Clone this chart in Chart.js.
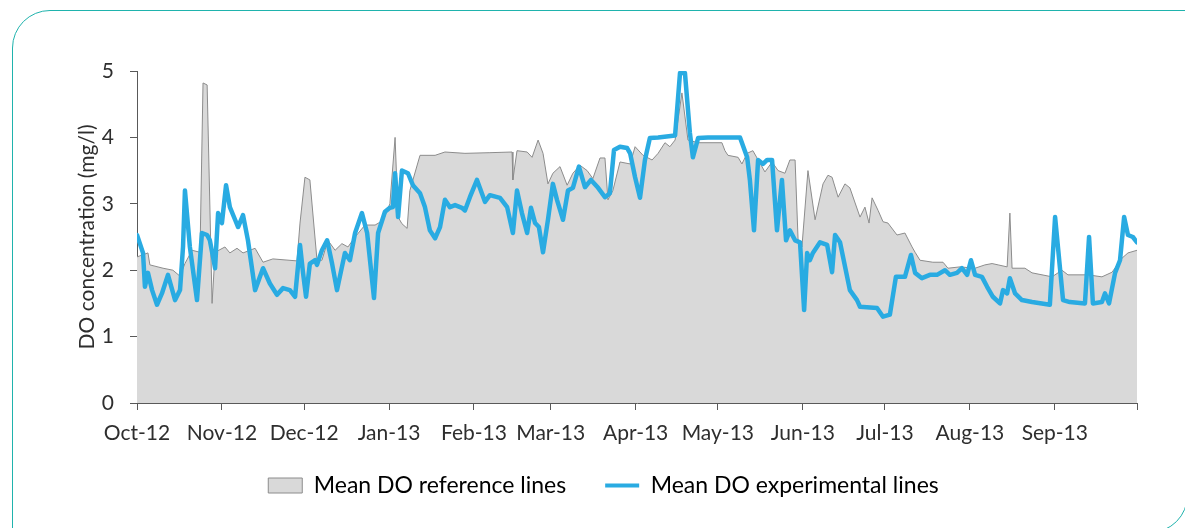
<!DOCTYPE html>
<html>
<head>
<meta charset="utf-8">
<title>Mean DO concentration</title>
<script src="https://cdn.jsdelivr.net/npm/chart.js@4.4.1/dist/chart.umd.min.js"></script>
<style>
  html, body { margin: 0; padding: 0; background: #fff; overflow: hidden; }
  #frame {
    position: absolute; left: 12px; top: 10px; width: 1176px; height: 523px;
    box-sizing: border-box; border: 1.5px solid #1fb3ad; border-radius: 38px 0 38px 0;
  }
  #wrap { position: absolute; left: 0; top: 0; width: 1185px; height: 528px; }
</style>
</head>
<body>
<div id="frame"></div>
<div id="wrap"><canvas id="doChart" width="1185" height="528"></canvas></div>
<script>
// days since 1 Oct 2012 for each month start, plus the closing tick
const monthTicks = [0, 31, 61, 92, 123, 151, 182, 212, 243, 273, 304, 335, 365];
const monthLabels = ["Oct-12", "Nov-12", "Dec-12", "Jan-13", "Feb-13", "Mar-13", "Apr-13",
  "May-13", "Jun-13", "Jul-13", "Aug-13", "Sep-13", ""];

// mean DO, reference lines (mg/l)
const refDays = [0, 4.0, 4.7, 9.5, 13.1, 15.7, 17.5, 20.1, 23.0, 24.1, 25.6, 27.4, 28.5, 32.1, 33.9,
  36.5, 38.7, 43.1, 46.0, 49.6, 58.4, 59.5, 61.3, 63.1, 65.7, 67.5, 69.7, 72.3, 74.8, 77.0, 79.6,
  83.2, 86.9, 89.8, 92.3, 94.2, 95.3, 96.7, 98.6, 99.6, 103.3, 108.8, 112.4, 119.7, 128.8, 136.9,
  137.2, 138.7, 142.4, 144.2, 146.4, 148.2, 150.0, 151.8, 154.4, 157.0, 159.1, 161.7, 164.3, 166.4,
  169.0, 170.8, 171.9, 173.7, 176.3, 180.0, 181.8, 184.7, 188.0, 190.2, 192.7, 194.5, 196.4, 198.9,
  201.1, 204.8, 213.5, 214.6, 215.7, 219.4, 220.8, 222.7, 224.8, 229.2, 231.8, 234.0, 236.5, 238.3,
  240.2, 241.3, 242.7, 244.9, 247.5, 250.4, 252.2, 253.7, 255.9, 258.4, 260.2, 263.9, 265.7, 267.2,
  268.3, 270.5, 272.3, 274.1, 277.4, 280.3, 282.9, 284.0, 285.8, 290.5, 294.2, 296.0, 300.4, 305.9,
  309.5, 312.1, 314.3, 317.6, 318.6, 319.4, 324.1, 326.7, 334.0, 337.6, 339.8, 347.1, 352.2, 355.9,
  359.5, 361.7, 365];
const refValues = [2.2, 2.26, 2.08, 2.03, 2.0, 1.91, 2.1, 2.3, 2.27, 4.82, 4.79, 1.5, 2.27, 2.35, 2.26,
  2.33, 2.26, 2.33, 2.12, 2.17, 2.14, 2.71, 3.4, 3.36, 2.15, 2.15, 2.45, 2.3, 2.4, 2.35, 2.5,
  2.68, 2.68, 2.75, 3.0, 4.0, 2.8, 2.7, 2.63, 3.2, 3.73, 3.73, 3.78, 3.76, 3.77, 3.78,
  3.36, 3.8, 3.78, 3.7, 3.96, 3.76, 3.3, 3.46, 3.56, 3.28, 3.46, 3.58, 3.5, 3.38,
  3.69, 3.69, 3.06, 3.2, 3.63, 3.6, 3.86, 3.73, 3.66, 3.76, 3.92, 3.86, 3.96, 4.67,
  3.96, 3.92, 3.92, 3.8, 3.73, 3.7, 3.6, 3.76, 3.8, 3.48, 3.63, 3.5, 3.46, 3.66,
  3.66, 2.45, 2.35, 3.5, 2.76, 3.3, 3.43, 3.4, 3.1, 3.3, 3.24, 2.8, 2.95, 2.71,
  3.09, 2.9, 2.73, 2.71, 2.53, 2.56, 2.35, 2.27, 2.15, 2.12, 2.12, 2.03, 2.05, 2.03,
  2.08, 2.1, 2.08, 2.05, 2.86, 2.03, 2.03, 1.96, 1.9, 2.0, 1.93, 1.93, 1.9, 1.97,
  2.18, 2.26, 2.3];

// mean DO, experimental lines (mg/l)
const expDays = [0, 2.2, 2.9, 4.0, 5.5, 7.3, 9.1, 11.3, 13.9, 15.7, 16.8, 17.5, 19.3, 21.9, 23.7,
  25.6, 26.6, 28.5, 29.6, 31.0, 32.5, 33.9, 35.8, 36.9, 38.7, 40.5, 43.1, 46.0, 48.5, 51.1, 53.3,
  55.8, 57.7, 59.5, 60.6, 61.7, 63.1, 65.0, 65.7, 67.5, 69.4, 71.2, 73.0, 74.8, 75.9, 77.7, 79.6,
  82.1, 84.0, 86.5, 88.0, 90.5, 92.3, 93.4, 94.2, 95.3, 96.7, 98.9, 100.7, 103.3, 105.1, 106.9,
  108.8, 110.6, 112.4, 114.2, 116.1, 118.6, 119.7, 121.5, 124.1, 127.0, 128.8, 132.5, 135.1, 137.2,
  138.7, 140.5, 142.4, 143.8, 145.3, 146.7, 148.2, 150.0, 151.8, 153.3, 155.5, 157.3, 159.1, 161.3,
  163.5, 165.7, 168.3, 170.8, 172.6, 174.1, 176.3, 178.9, 180.0, 181.8, 183.6, 185.4, 187.2, 190.2,
  196.4, 198.2, 200.0, 201.8, 202.9, 204.8, 208.4, 220.1, 222.7, 223.7, 225.2, 226.7, 228.5, 230.0,
  231.8, 233.6, 235.4, 236.9, 238.3, 240.2, 242.0, 243.5, 244.6, 245.6, 246.7, 249.3, 251.9, 253.7,
  254.8, 256.6, 260.2, 262.8, 263.9, 270.1, 272.3, 274.8, 277.0, 280.3, 282.5, 284.0, 286.5, 289.4,
  292.0, 294.9, 296.7, 299.3, 301.1, 303.0, 304.4, 305.9, 308.4, 310.3, 312.4, 315.0, 316.1, 317.6,
  318.6, 320.5, 323.0, 326.7, 333.2, 335.1, 338.0, 340.5, 346.0, 347.5, 348.9, 352.2, 353.3, 354.8,
  357.0, 358.8, 360.3, 361.7, 363.5, 365];
const expValues = [2.53, 2.26, 1.75, 1.96, 1.7, 1.48, 1.65, 1.93, 1.55, 1.7, 2.35, 3.2, 2.35, 1.55, 2.56,
  2.53, 2.45, 2.03, 2.86, 2.71, 3.28, 2.95, 2.76, 2.65, 2.83, 2.45, 1.7, 2.03, 1.8, 1.63, 1.73,
  1.7, 1.6, 2.38, 1.96, 1.6, 2.1, 2.15, 2.08, 2.3, 2.45, 2.1, 1.7, 2.05, 2.26, 2.15, 2.56,
  2.86, 2.56, 1.58, 2.56, 2.88, 2.94, 2.95, 3.46, 2.8, 3.5, 3.46, 3.28, 3.16, 2.95, 2.6,
  2.48, 2.65, 3.06, 2.95, 2.98, 2.94, 2.9, 3.1, 3.36, 3.03, 3.13, 3.09, 2.95, 2.56,
  3.2, 2.86, 2.56, 2.94, 2.71, 2.65, 2.27, 2.76, 3.3, 3.06, 2.76, 3.2, 3.24, 3.56,
  3.25, 3.36, 3.24, 3.1, 3.16, 3.81, 3.86, 3.84, 3.76, 3.4, 3.09, 3.66, 3.99, 4.0,
  4.03, 4.97, 4.97, 4.07, 3.7, 3.99, 4.0, 4.0, 3.7, 3.36, 2.6, 3.66, 3.6, 3.66,
  3.66, 2.6, 3.36, 2.45, 2.6, 2.45, 2.42, 1.4, 2.26, 2.15, 2.26, 2.42, 2.38, 1.97,
  2.53, 2.42, 1.7, 1.55, 1.45, 1.43, 1.3, 1.33, 1.9, 1.9, 2.23, 1.96, 1.88, 1.93,
  1.93, 2.0, 1.93, 1.96, 2.03, 1.93, 2.15, 1.93, 1.9, 1.75, 1.6, 1.5, 1.7, 1.65,
  1.88, 1.65, 1.55, 1.52, 1.48, 2.8, 1.55, 1.52, 1.5, 2.5, 1.5, 1.52, 1.65, 1.5,
  1.96, 2.15, 2.8, 2.53, 2.5, 2.42];

const seriesNames = ["Mean DO reference lines", "Mean DO experimental lines"];

const toPoints = (days, values) => days.map((d, i) => ({ x: d, y: values[i] }));

const axisColor = "#595959";
const textColor = "#2e2e2e";
const fontFamily = "Lato, 'Open Sans', sans-serif";
const refFill = "#d9d9d9";
const refLine = "#8c8c8c";
const expLine = "#29abe2";

// the legend padding also spaces the two entries apart, so pull the box up a little
const legendLift = {
  id: "legendLift",
  afterLayout(chart) {
    chart.legend.top -= 16;
    chart.legend.bottom -= 16;
  }
};

new Chart(document.getElementById("doChart"), {
  type: "line",
  data: {
    datasets: [
      {
        label: seriesNames[0],
        data: toPoints(refDays, refValues),
        borderColor: refLine,
        borderWidth: 1,
        backgroundColor: refFill,
        fill: "origin",
        pointRadius: 0,
        tension: 0,
        order: 1
      },
      {
        label: seriesNames[1],
        data: toPoints(expDays, expValues),
        borderColor: expLine,
        borderWidth: 4.5,
        borderJoinStyle: "round",
        borderCapStyle: "round",
        fill: false,
        pointRadius: 0,
        tension: 0,
        order: 0
      }
    ]
  },
  plugins: [legendLift],
  options: {
    responsive: false,
    animation: false,
    layout: { padding: { left: 70, right: 48, top: 71, bottom: 7 } },
    plugins: {
      tooltip: { enabled: false },
      legend: {
        position: "bottom",
        maxHeight: 70,
        labels: {
          color: textColor,
          font: { family: fontFamily, size: 23 },
          usePointStyle: true,
          pointStyleWidth: 34,
          boxHeight: 15,
          padding: 39,
          generateLabels: () => [
            { text: seriesNames[0], fillStyle: refFill, strokeStyle: refLine, lineWidth: 1,
              pointStyle: "rect", datasetIndex: 0 },
            { text: seriesNames[1], fillStyle: expLine, strokeStyle: expLine, lineWidth: 4,
              pointStyle: "line", datasetIndex: 1 }
          ]
        }
      }
    },
    scales: {
      x: {
        type: "linear",
        min: 0,
        max: 365,
        afterBuildTicks: (scale) => { scale.ticks = monthTicks.map(v => ({ value: v })); },
        afterFit: (scale) => { scale.height = 48; },
        border: { color: axisColor, width: 1 },
        grid: { drawOnChartArea: false, drawTicks: true, tickLength: 7, color: axisColor },
        ticks: {
          autoSkip: false,
          maxRotation: 0,
          padding: 11,
          color: textColor,
          font: { family: fontFamily, size: 21 },
          callback: (value, index) => monthLabels[index]
        }
      },
      y: {
        min: 0,
        max: 5,
        afterFit: (scale) => { scale.width = 67; },
        border: { color: axisColor, width: 1 },
        grid: { drawOnChartArea: false, drawTicks: true, tickLength: 7, color: axisColor },
        ticks: {
          stepSize: 1,
          padding: 16,
          color: textColor,
          font: { family: fontFamily, size: 21 }
        },
        title: {
          display: true,
          text: "DO concentration (mg/l)",
          color: textColor,
          font: { family: fontFamily, size: 21 },
          padding: { top: 5, bottom: 0 }
        }
      }
    }
  }
});
</script>
</body>
</html>
